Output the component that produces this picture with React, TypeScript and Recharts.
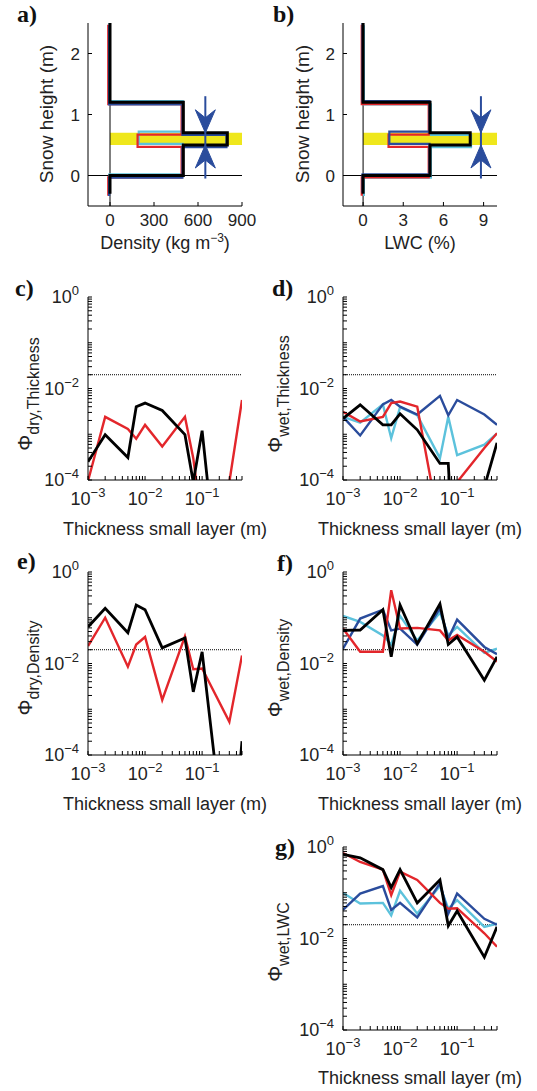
import React from 'react'
import {
  ComposedChart, LineChart, Line, Scatter, XAxis, YAxis,
  ReferenceLine, ReferenceArea,
} from 'recharts'

// ---- a), b): snow profiles ----
const layerBounds = [2.5, 1.2, 0.7, 0.5, 0, -0.3] // m, top to bottom
const densBlack = [0, 500, 800, 500, 0]
const densBlue = [0, 500, 800, 500, 0]
const densRed = [0, 500, 200, 500, 0]
const densCyan = [0, 500, 200, 500, 0]
const lwcBlack = [0, 5, 8, 5, 0]
const lwcCyan = [0, 5, 8, 5, 0]
const lwcRed = [0, 5, 2, 5, 0]
const lwcBlue = [0, 5, 2, 5, 0]
const densityTicks = [0, 300, 600, 900]
const lwcTicks = [0, 3, 6, 9]
const heightTicks = [0, 1, 2]
const smallLayer = [0.5, 0.7]
const arrowDensity = 650
const arrowLwc = 8.8
const arrowSpan = [-0.05, 1.3]

// ---- c)-g): Phi vs thickness of the small layer ----
const thickness = [0.001, 0.002, 0.005, 0.007, 0.01, 0.02, 0.05, 0.07, 0.1, 0.3, 0.5]
const thickLabels = [-3, -2, -1]
const phiLabels = [0, -2, -4]
const threshold = 0.02

const dryThickRed = [9.5e-5, 2.4e-3, 1.3e-3, 8e-4, 1.6e-3, 5.4e-4, 2.4e-3, 3e-4, 1e-5, 9e-5, 5.6e-3]
const dryThickBlack = [2.5e-4, 9.8e-4, 3.1e-4, 4e-3, 4.8e-3, 3.3e-3, 9.8e-4, 9e-5, 1.2e-3, 3e-9, 1e-6]

const wetThickRed = [3.1e-3, 1.9e-3, 2.4e-3, 4.8e-3, 5.2e-3, 4e-3, 8.5e-6, 1e-5, 9e-5, 5e-4, 1.05e-3]
const wetThickBlack = [2.2e-3, 4.4e-3, 1.6e-3, 1.6e-3, 2.8e-3, 1.25e-3, 2.3e-4, 2.3e-4, 6e-8, 7e-5, 6.5e-4]
const wetThickBlue = [2.4e-3, 9.4e-4, 4.5e-3, 5.6e-3, 4e-3, 2.7e-3, 6.9e-3, 2.6e-3, 5.6e-3, 2.7e-3, 1.6e-3]
const wetThickCyan = [2.4e-3, 1.8e-3, 4.5e-3, 8.2e-4, 3.9e-3, 2.6e-3, 3e-4, 2.4e-3, 3.5e-4, 5.9e-4, 1.05e-3]

const dryDensRed = [0.024, 0.1, 8.5e-3, 0.026, 0.038, 1.6e-3, 0.039, 7.5e-3, 7.8e-3, 5.3e-4, 0.015]
const dryDensBlack = [0.063, 0.16, 0.047, 0.19, 0.15, 0.022, 0.036, 2.4e-3, 0.018, 1.3e-7, 2e-4]

const wetDensRed = [0.058, 0.018, 0.018, 0.4, 0.058, 0.06, 0.053, 0.032, 0.042, 0.018, 0.011]
const wetDensBlack = [0.053, 0.054, 0.15, 0.014, 0.19, 0.027, 0.2, 0.026, 0.038, 4.3e-3, 0.014]
const wetDensBlue = [0.021, 0.096, 0.15, 0.053, 0.058, 0.026, 0.16, 0.035, 0.091, 0.023, 0.016]
const wetDensCyan = [0.11, 0.081, 0.041, 0.026, 0.11, 0.032, 0.13, 0.041, 0.063, 0.017, 0.021]

const wetLwcRed = [0.74, 0.47, 0.32, 0.089, 0.29, 0.19, 0.06, 0.045, 0.046, 0.013, 6.6e-3]
const wetLwcBlack = [0.69, 0.58, 0.32, 0.13, 0.32, 0.06, 0.19, 0.019, 0.04, 3.9e-3, 0.018]
const wetLwcBlue = [0.042, 0.096, 0.14, 0.042, 0.06, 0.029, 0.16, 0.035, 0.096, 0.027, 0.02]
const wetLwcCyan = [0.099, 0.058, 0.06, 0.032, 0.11, 0.035, 0.14, 0.045, 0.069, 0.018, 0.021]

const RED = '#e3262b'
const BLUE = '#2a4c9c'
const CYAN = '#5cc2dc'
const BLACK = '#000'
const YELLOW = '#efe71c'
const font = '"Liberation Sans", Arial, Helvetica, sans-serif'

const W = 268
const H = 283
const MARGIN = { top: 30, right: 26, left: 28, bottom: 0 }

const mantissas = [1, 2, 3, 4, 5, 6, 7, 8, 9]
const logTicks = (lo: number, hi: number, max: number) => {
  const out: number[] = []
  for (let e = lo; e <= hi; e++) {
    for (const m of mantissas) {
      const t = +(m * Math.pow(10, e)).toPrecision(6)
      if (t <= max * 1.0000001) out.push(t)
    }
  }
  return out
}
const thickTicks = logTicks(-3, -1, 0.5)
const phiTicks = logTicks(-4, 0, 1)

// step outline of a layered profile, slightly shifted so overlapping lines stay visible
const steps = (vals: number[], dx: number, dy: number) =>
  vals.flatMap((v, i) => [
    { v: v + dx, h: layerBounds[i] + dy },
    { v: v + dx, h: layerBounds[i + 1] + dy },
  ])

const rowsOf = (series: Record<string, number[]>) =>
  thickness.map((x, i) => {
    const r: Record<string, number> = { x }
    Object.keys(series).forEach(k => { r[k] = series[k][i] })
    return r
  })

const expText = (e: number) => (e < 0 ? '\u2212' + Math.abs(e) : String(e))

function PowTick(props: any) {
  const { x, y, payload, side, labels } = props
  const lg = Math.log10(payload.value)
  const e = Math.round(lg)
  if (Math.abs(lg - e) > 1e-6 || !labels.includes(e)) return <g />
  const bottom = side === 'bottom'
  return (
    <text x={bottom ? x : x - 9} y={bottom ? y + 25 : y + 6} textAnchor={bottom ? 'middle' : 'end'}
      fontFamily={font} fontSize={18} fill="#222">
      <tspan>10</tspan>
      <tspan dy={-8} fontSize={13}>{expText(e)}</tspan>
    </text>
  )
}

function NumTick(props: any) {
  const { x, y, payload, side } = props
  const bottom = side === 'bottom'
  return (
    <text x={bottom ? x : x - 8} y={bottom ? y + 20 : y + 6} textAnchor={bottom ? 'middle' : 'end'}
      fontFamily={font} fontSize={17} fill="#222">
      {payload.value}
    </text>
  )
}

function ArrowHead(props: any) {
  const { cx, cy, payload } = props
  const s = payload.dir // +1 points down, -1 points up
  const d = `M${cx},${cy} L${cx - 10},${cy - s * 23} L${cx},${cy - s * 15} L${cx + 10},${cy - s * 23} Z`
  return <path d={d} fill={BLUE} stroke={BLUE} strokeWidth={1} />
}

type ProfileLine = { data: { v: number; h: number }[]; color: string; width: number }

function ProfilePanel({ left, top, xDomain, xTicks, lines, arrowX }: {
  left: number; top: number; xDomain: [number, number]; xTicks: number[]; lines: ProfileLine[]; arrowX: number
}) {
  const arrowLine = arrowSpan.map(h => ({ v: arrowX, h }))
  const arrowHeads = [{ v: arrowX, h: smallLayer[1], dir: 1 }, { v: arrowX, h: smallLayer[0], dir: -1 }]
  return (
    <div style={{ position: 'absolute', left, top }}>
      <ComposedChart width={W} height={H} margin={MARGIN}>
        <XAxis dataKey="v" type="number" domain={xDomain} allowDataOverflow ticks={xTicks} interval={0}
          tickSize={-4} tickMargin={4} height={70} stroke="#000" tick={<NumTick side="bottom" />} />
        <XAxis xAxisId="top" dataKey="v" orientation="top" type="number" domain={xDomain} allowDataOverflow
          ticks={xTicks} interval={0} tickSize={-4} height={0} stroke="#000" tick={false} />
        <YAxis dataKey="h" type="number" domain={[-0.5, 2.5]} allowDataOverflow ticks={heightTicks} interval={0}
          tickSize={-4} tickMargin={4} width={60} stroke="#000" tick={<NumTick side="left" />} />
        <YAxis yAxisId="right" dataKey="h" orientation="right" type="number" domain={[-0.5, 2.5]} allowDataOverflow
          ticks={heightTicks} interval={0} tickSize={-4} width={0} stroke="#000" tick={false} />
        <ReferenceArea x1={0} x2={xDomain[1]} y1={smallLayer[0]} y2={smallLayer[1]} fill={YELLOW} fillOpacity={1} stroke="none" />
        <ReferenceLine x={0} stroke="#000" strokeWidth={1} />
        <ReferenceLine y={0} stroke="#000" strokeWidth={1} />
        {lines.map((l, i) => (
          <Line key={i} data={l.data} dataKey="h" type="linear" stroke={l.color} strokeWidth={l.width}
            dot={false} isAnimationActive={false} strokeLinejoin="miter" />
        ))}
        <Line data={arrowLine} dataKey="h" stroke={BLUE} strokeWidth={2} dot={false} isAnimationActive={false} />
        <Scatter data={arrowHeads} shape={<ArrowHead />} isAnimationActive={false} />
      </ComposedChart>
    </div>
  )
}

function LogPanel({ left, top, series }: { left: number; top: number; series: [string, number[], string, number][] }) {
  const rows = rowsOf(Object.fromEntries(series.map(s => [s[0], s[1]])))
  return (
    <div style={{ position: 'absolute', left, top }}>
      <LineChart width={W} height={H} data={rows} margin={MARGIN}>
        <XAxis dataKey="x" type="number" scale="log" domain={[0.001, 0.5]} allowDataOverflow ticks={thickTicks}
          interval={0} tickSize={-4} tickMargin={4} height={70} stroke="#000"
          tick={<PowTick side="bottom" labels={thickLabels} />} />
        <XAxis xAxisId="top" dataKey="x" orientation="top" type="number" scale="log" domain={[0.001, 0.5]}
          allowDataOverflow ticks={thickTicks} interval={0} tickSize={-4} height={0} stroke="#000" tick={false} />
        <YAxis type="number" scale="log" domain={[1e-4, 1]} allowDataOverflow ticks={phiTicks} interval={0}
          tickSize={-4} tickMargin={4} width={60} stroke="#000" tick={<PowTick side="left" labels={phiLabels} />} />
        <YAxis yAxisId="right" orientation="right" type="number" scale="log" domain={[1e-4, 1]} allowDataOverflow
          ticks={phiTicks} interval={0} tickSize={-4} width={0} stroke="#000" tick={false} />
        <ReferenceLine y={threshold} stroke="#000" strokeWidth={1} strokeDasharray="1 1" />
        {series.map(s => (
          <Line key={s[0]} dataKey={s[0]} type="linear" stroke={s[2]} strokeWidth={s[3]}
            dot={false} isAnimationActive={false} />
        ))}
      </LineChart>
    </div>
  )
}

function PhiTitle({ x, y, sub }: { x: number; y: number; sub: string }) {
  return (
    <text transform={`translate(${x},${y}) rotate(-90)`} textAnchor="middle" fontFamily={font} fill="#222">
      <tspan fontSize={20}>{'\u03a6'}</tspan>
      <tspan fontSize={16} dy={7}>{sub}</tspan>
    </text>
  )
}

function HTitle({ x, y, children }: { x: number; y: number; children: React.ReactNode }) {
  return <text x={x} y={y} textAnchor="middle" fontFamily={font} fontSize={18} fill="#222">{children}</text>
}

function Letter({ x, y, t }: { x: number; y: number; t: string }) {
  return <text x={x} y={y} fontFamily='"Liberation Serif", "Times New Roman", serif' fontWeight="bold" fontSize={24} fill="#111">{t}</text>
}

export default function App() {
  const densLines: ProfileLine[] = [
    { data: steps(densCyan, -4, 0.02), color: CYAN, width: 2.2 },
    { data: steps(densRed, -12, -0.03), color: RED, width: 2.2 },
    { data: steps(densBlue, -6, -0.035), color: BLUE, width: 2.2 },
    { data: steps(densBlack, 0, 0), color: BLACK, width: 3 },
  ]
  const lwcLines: ProfileLine[] = [
    { data: steps(lwcCyan, 0.06, -0.035), color: CYAN, width: 2.2 },
    { data: steps(lwcRed, -0.1, -0.03), color: RED, width: 2.2 },
    { data: steps(lwcBlue, -0.04, 0.02), color: BLUE, width: 2.2 },
    { data: steps(lwcBlack, 0, 0), color: BLACK, width: 3 },
  ]
  const thickTitle = 'Thickness small layer (m)'
  return (
    <div style={{ position: 'absolute', left: 0, top: 0, width: 537, height: 1091, overflow: 'hidden', background: '#fff' }}>
      <ProfilePanel left={0} top={-7} xDomain={[-150, 900]} xTicks={densityTicks} lines={densLines} arrowX={arrowDensity} />
      <ProfilePanel left={255} top={-7} xDomain={[-1.5, 10]} xTicks={lwcTicks} lines={lwcLines} arrowX={arrowLwc} />
      <LogPanel left={0} top={267} series={[['red', dryThickRed, RED, 2.4], ['black', dryThickBlack, BLACK, 2.8]]} />
      <LogPanel left={255} top={267} series={[['cyan', wetThickCyan, CYAN, 2.4], ['blue', wetThickBlue, BLUE, 2.4], ['red', wetThickRed, RED, 2.4], ['black', wetThickBlack, BLACK, 2.8]]} />
      <LogPanel left={0} top={542} series={[['red', dryDensRed, RED, 2.4], ['black', dryDensBlack, BLACK, 2.8]]} />
      <LogPanel left={255} top={542} series={[['cyan', wetDensCyan, CYAN, 2.4], ['blue', wetDensBlue, BLUE, 2.4], ['red', wetDensRed, RED, 2.4], ['black', wetDensBlack, BLACK, 2.8]]} />
      <LogPanel left={255} top={817} series={[['cyan', wetLwcCyan, CYAN, 2.4], ['blue', wetLwcBlue, BLUE, 2.4], ['red', wetLwcRed, RED, 2.4], ['black', wetLwcBlack, BLACK, 2.8]]} />
      <svg width={537} height={1091} style={{ position: 'absolute', left: 0, top: 0, pointerEvents: 'none' }}>
        <Letter x={17} y={22} t="a)" />
        <Letter x={273} y={22} t="b)" />
        <Letter x={15} y={296} t="c)" />
        <Letter x={272} y={296} t="d)" />
        <Letter x={17} y={569} t="e)" />
        <Letter x={277} y={571} t="f)" />
        <Letter x={275} y={855} t="g)" />
        <text transform="translate(53,114) rotate(-90)" textAnchor="middle" fontFamily={font} fontSize={19} fill="#222">Snow height (m)</text>
        <text transform="translate(309,114) rotate(-90)" textAnchor="middle" fontFamily={font} fontSize={19} fill="#222">Snow height (m)</text>
        <HTitle x={165} y={249}>Density (kg m<tspan dy={-7} fontSize={12}>{'\u22123'}</tspan><tspan dy={7}>)</tspan></HTitle>
        <HTitle x={420} y={249}>LWC (%)</HTitle>
        <PhiTitle x={32} y={394} sub="dry,Thickness" />
        <PhiTitle x={282} y={394} sub="wet,Thickness" />
        <PhiTitle x={32} y={668} sub="dry,Density" />
        <PhiTitle x={282} y={668} sub="wet,Density" />
        <PhiTitle x={282} y={942} sub="wet,LWC" />
        <HTitle x={165} y={535}>{thickTitle}</HTitle>
        <HTitle x={420} y={535}>{thickTitle}</HTitle>
        <HTitle x={165} y={810}>{thickTitle}</HTitle>
        <HTitle x={420} y={810}>{thickTitle}</HTitle>
        <HTitle x={420} y={1084}>{thickTitle}</HTitle>
      </svg>
    </div>
  )
}
